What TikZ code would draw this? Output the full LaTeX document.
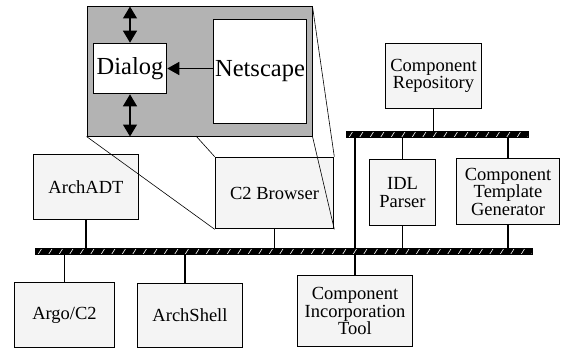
\documentclass[tikz,border=0pt]{standalone}
\usepackage{fontspec}
\setmainfont{Liberation Serif}
\usetikzlibrary{arrows.meta}
\definecolor{boxfill}{HTML}{F4F4F4}
\definecolor{panelgrey}{HTML}{B3B3B3}
\begin{document}
\begin{tikzpicture}[x=1pt,y=-1pt,
  box/.style={draw, line width=1.6pt, fill=boxfill, inner sep=0pt, align=center,
    font=\fontsize{18.5}{17.5}\selectfont},
  bigbox/.style={draw, line width=1.6pt, fill=white, inner sep=0pt, align=center,
    font=\fontsize{24.5}{24}\selectfont},
  bus/.style={draw, line width=0.8pt, fill=black, inner sep=0pt,
    path picture={\foreach \i in {-8,2.5,...,520}
      \draw[white, line width=0.6pt] ([xshift=\i pt]path picture bounding box.south west) -- ++(5pt,8pt);}},
  conn/.style={line width=1.6pt},
  proj/.style={line width=0.6pt},
  tri/.style={line width=1.2pt},
  bigtip/.style={Triangle[width=14pt,length=12pt]},
]
\useasboundingbox (0,0) rectangle (561,350);
% zoom panel
\node[draw, line width=1pt, fill=panelgrey, minimum width=225pt, minimum height=129pt, inner sep=0pt] (panel) at (199.5,71.5) {};
\node[bigbox, minimum width=73pt, minimum height=50pt] (dialog) at (130,68.5) {Dialog};
\node[bigbox, minimum width=93pt, minimum height=104pt] (netscape) at (260,71.5) {Netscape};
\draw[conn, -{Triangle[width=13pt,length=12pt]}] (netscape.west |- dialog.east) -- (dialog.east);
\draw[tri, {Triangle[width=14pt,length=12pt]}-{Triangle[width=14pt,length=12pt]}] (panel.north -| dialog.north) -- (dialog.north);
\draw[tri, {Triangle[width=14pt,length=12pt]}-{Triangle[width=14pt,length=12pt]}] (dialog.south) -- (panel.south -| dialog.south);
% boxes
\node[box, minimum width=118pt, minimum height=71pt] (c2) at (274.5,193) {C2 Browser};
\node[box, minimum width=105pt, minimum height=65pt] (archadt) at (86,187) {ArchADT};
\node[box, minimum width=100pt, minimum height=65pt] (argo) at (64.5,315) {Argo/C2};
\node[box, minimum width=105pt, minimum height=64pt] (archshell) at (190,315.5) {ArchShell};
\node[box, minimum width=115pt, minimum height=71pt] (cit) at (355,311) {Component\\Incorporation\\Tool};
\node[box, minimum width=96pt, minimum height=65pt] (repo) at (433.5,76) {Component\\Repository};
\node[box, minimum width=66pt, minimum height=66pt] (idl) at (402.5,192.5) {IDL\\Parser};
\node[box, minimum width=103pt, minimum height=66pt] (ctg) at (508,191.5) {Component\\Template\\Generator};
% projection lines
\coordinate (pmid) at (196,136);
\draw[proj] (panel.south west) -- (c2.south west);
\draw[proj] (pmid) -- (c2.north west);
\draw[proj] (panel.north east) -- (c2.north east);
\draw[proj] (panel.south east) -- (c2.south east);
% connectors
\coordinate (asx) at (185,0);
\draw[conn] (archadt.south) -- (archadt.south |- 0,250);
\draw[conn] (c2.south) -- (c2.south |- 0,250);
\draw[conn] (argo.north) -- (argo.north |- 0,252);
\draw[conn] (archshell.north -| asx) -- (asx |- 0,252);
\draw[conn] (cit.north) -- (cit.north |- 0,136);
\draw[conn] (repo.south) -- (repo.south |- 0,133);
\draw[conn] (idl.north) -- (idl.north |- 0,136);
\draw[conn] (idl.south) -- (idl.south |- 0,250);
\draw[conn] (ctg.north) -- (ctg.north |- 0,136);
\draw[conn] (ctg.south) -- (ctg.south |- 0,250);
% buses
\node[bus, minimum width=182pt, minimum height=6pt] (ubus) at (437.5,134.5) {};
\node[bus, minimum width=497pt, minimum height=6pt] (lbus) at (284,251.5) {};
\end{tikzpicture}
\end{document}
